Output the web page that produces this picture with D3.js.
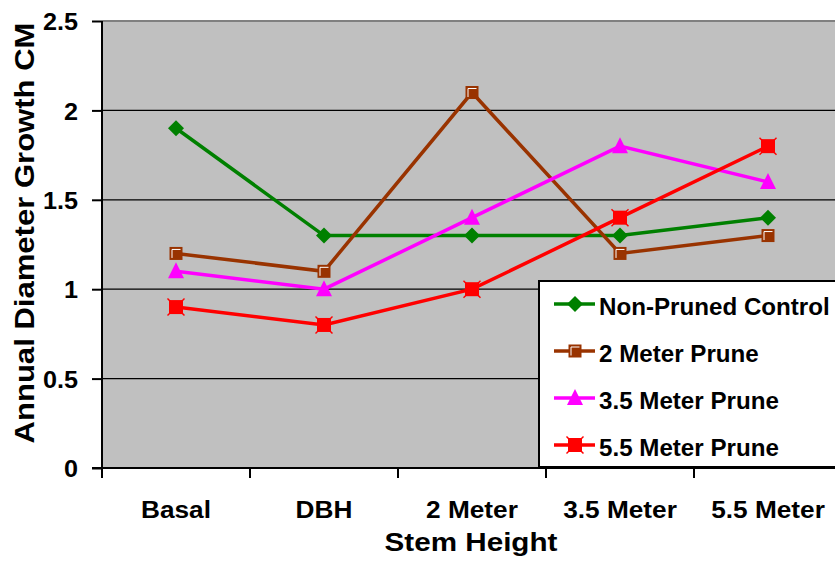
<!DOCTYPE html>
<html>
<head>
<meta charset="utf-8">
<script src="https://cdn.jsdelivr.net/npm/d3@7"></script>
<style>
  body { margin: 0; background: #fff; overflow: hidden; }
  svg { display: block; font-family: Arial, "Liberation Sans", sans-serif; font-weight: bold; }
</style>
</head>
<body>
<svg id="chart" width="835" height="569"></svg>
<script>
// chart data
const categories = ["Basal", "DBH", "2 Meter", "3.5 Meter", "5.5 Meter"];
const seriesNames = ["Non-Pruned Control", "2 Meter Prune", "3.5 Meter Prune", "5.5 Meter Prune"];
const nonPruned = [1.9, 1.3, 1.3, 1.3, 1.4];
const prune2 = [1.2, 1.1, 2.1, 1.2, 1.3];
const prune35 = [1.1, 1.0, 1.4, 1.8, 1.6];
const prune55 = [0.9, 0.8, 1.0, 1.4, 1.8];
const yTicks = [0, 0.5, 1, 1.5, 2, 2.5];
const colors = ["#008000", "#993300", "#FF00FF", "#FF0000"];
const markers = ["diamond", "square", "triangle", "star"];

const series = [nonPruned, prune2, prune35, prune55].map((vals, i) => ({
  name: seriesNames[i], values: vals, color: colors[i], marker: markers[i]
}));

const svg = d3.select("#chart");
const plot = { left: 102, top: 21, right: 842, bottom: 468 };

const x = d3.scaleBand().domain(categories).range([plot.left, plot.right]);
const y = d3.scaleLinear().domain([0, 2.5]).range([plot.bottom, plot.top]);
const cx = c => x(c) + x.bandwidth() / 2;

// the original font is a bit wider than Liberation Sans, so stretch text horizontally
function stretch(sel, k) {
  sel.each(function() {
    const w = this.getComputedTextLength();
    d3.select(this).attr("textLength", w * k).attr("lengthAdjust", "spacingAndGlyphs");
  });
}

// plot background
svg.append("rect")
  .attr("x", plot.left).attr("y", plot.top)
  .attr("width", plot.right - plot.left).attr("height", plot.bottom - plot.top)
  .attr("fill", "#C0C0C0");

// gridlines
svg.append("g").selectAll("line")
  .data(yTicks.filter(t => t > 0))
  .enter().append("line")
  .attr("x1", plot.left).attr("x2", plot.right)
  .attr("y1", d => y(d)).attr("y2", d => y(d))
  .attr("stroke", d => d === 2.5 ? "#808080" : "#000")
  .attr("stroke-width", d => d === 2.5 ? 2 : 1.3);

// y axis
const yAxis = d3.axisLeft(y).tickValues(yTicks).tickFormat(d3.format("")).tickSize(10).tickPadding(14);
const gy = svg.append("g").attr("transform", `translate(${plot.left},0)`).call(yAxis);
gy.select(".domain").attr("stroke-width", 2).attr("d", `M0,${plot.top}V${plot.bottom}`);
gy.selectAll(".tick line").attr("stroke-width", 2);
gy.selectAll("text").attr("font-size", 24).attr("font-weight", "bold").attr("fill", "#000")
  .attr("font-family", "Arial, 'Liberation Sans', sans-serif").attr("dy", "0.36em");
stretch(gy.selectAll("text"), 1.05);

// x axis: ticks at category boundaries
const gx = svg.append("g").attr("transform", `translate(0,${plot.bottom})`);
gx.append("line").attr("x1", plot.left - 10).attr("x2", plot.right)
  .attr("stroke", "#000").attr("stroke-width", 2);
gx.selectAll("line.tk")
  .data(categories.concat(["end"]))
  .enter().append("line").attr("class", "tk")
  .attr("x1", (d, i) => plot.left + i * x.bandwidth())
  .attr("x2", (d, i) => plot.left + i * x.bandwidth())
  .attr("y1", 0).attr("y2", 10)
  .attr("stroke", "#000").attr("stroke-width", 2);
gx.selectAll("text")
  .data(categories)
  .enter().append("text")
  .attr("x", d => cx(d)).attr("y", 50)
  .attr("text-anchor", "middle").attr("font-size", 23)
  .text(d => d)
  .call(stretch, 1.14);

// axis titles
svg.append("text")
  .attr("x", 471).attr("y", 551)
  .attr("text-anchor", "middle").attr("font-size", 26)
  .text("Stem Height")
  .call(stretch, 1.14);
svg.append("text")
  .attr("transform", "translate(34,233) rotate(-90)")
  .attr("text-anchor", "middle").attr("font-size", 27)
  .text("Annual Diameter Growth CM")
  .call(stretch, 1.15);

// marker drawing
function drawMarker(g, type, color, px, py) {
  if (type === "diamond") {
    g.append("path").attr("d", `M${px},${py - 8}L${px + 8},${py}L${px},${py + 8}L${px - 8},${py}Z`)
      .attr("fill", color);
  } else if (type === "square") {
    g.append("rect").attr("x", px - 6.5).attr("y", py - 6.5).attr("width", 13).attr("height", 13)
      .attr("fill", color);
    g.append("path").attr("d", `M${px - 4},${py + 4.5}V${py - 4}H${px + 4.5}`)
      .attr("fill", "none").attr("stroke", "#fff").attr("stroke-width", 1);
  } else if (type === "triangle") {
    g.append("path").attr("d", `M${px},${py - 9}L${px + 8},${py + 7}L${px - 8},${py + 7}Z`)
      .attr("fill", color);
  } else {
    g.append("rect").attr("x", px - 7).attr("y", py - 7).attr("width", 14).attr("height", 14)
      .attr("fill", color);
    [[-1, -1], [1, -1], [-1, 1], [1, 1]].forEach(([sx, sy]) => {
      g.append("line")
        .attr("x1", px + sx * 5).attr("y1", py + sy * 5)
        .attr("x2", px + sx * 8.5).attr("y2", py + sy * 8.5)
        .attr("stroke", color).attr("stroke-width", 1.5);
    });
  }
}

// series lines and markers
const line = d3.line().x((d, i) => cx(categories[i])).y(d => y(d));
series.forEach(s => {
  const g = svg.append("g");
  g.append("path").datum(s.values)
    .attr("d", line).attr("fill", "none")
    .attr("stroke", s.color).attr("stroke-width", 3.5);
  s.values.forEach((v, i) => drawMarker(g, s.marker, s.color, cx(categories[i]), y(v)));
});

// legend
const lg = svg.append("g");
lg.append("rect").attr("x", 539).attr("y", 281).attr("width", 310).attr("height", 186)
  .attr("fill", "#fff").attr("stroke", "#000").attr("stroke-width", 2);
series.forEach((s, i) => {
  const ly = 304 + i * 47;
  lg.append("line").attr("x1", 554).attr("x2", 595).attr("y1", ly).attr("y2", ly)
    .attr("stroke", s.color).attr("stroke-width", 3.5);
  drawMarker(lg, s.marker, s.color, 575, ly);
  lg.append("text").attr("x", 599).attr("y", ly + 11).attr("font-size", 23)
    .text(s.name).call(stretch, 1.05);
});
</script>
</body>
</html>
